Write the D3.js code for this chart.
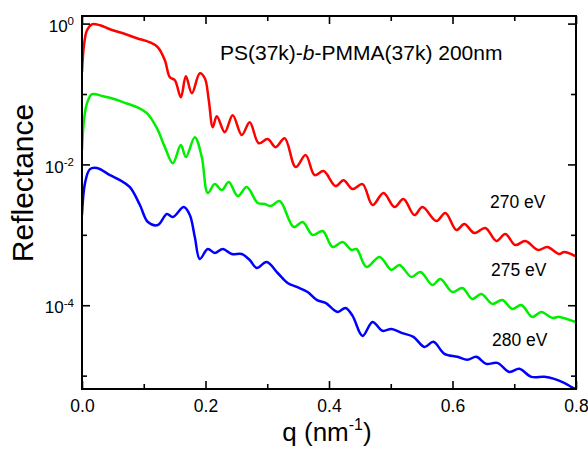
<!DOCTYPE html>
<html>
<head>
<meta charset="utf-8">
<script src="https://cdn.jsdelivr.net/npm/d3@7"></script>
<style>
  html, body { margin: 0; padding: 0; background: #fff; }
  svg { display: block; font-family: "Liberation Sans", Arial, Helvetica, sans-serif; }
</style>
</head>
<body>
<svg id="chart" width="588" height="449"></svg>
<script>
// Soft X-ray reflectivity of a PS-b-PMMA film measured at three photon energies.
const seriesNames = ["270 eV", "275 eV", "280 eV"];
const seriesColors = ["#ff0000", "#00ee00", "#0000ff"];

// 270 eV
const q270 = [0, 0.0032, 0.0081, 0.0162, 0.0291, 0.0453, 0.0663, 0.0889, 0.1099, 0.1229,
  0.1342, 0.1423, 0.1504, 0.1601, 0.1682, 0.1779, 0.1908, 0.1989, 0.2053, 0.2118,
  0.2183, 0.2312, 0.2441, 0.2587, 0.2716, 0.2862, 0.3007, 0.3137, 0.3282, 0.3460,
  0.3622, 0.3767, 0.3913, 0.4107, 0.4236, 0.4382, 0.4543, 0.4705, 0.4883, 0.5061,
  0.5206, 0.5384, 0.5513, 0.5740, 0.5885, 0.6063, 0.6192, 0.6354, 0.6532, 0.6710,
  0.6855, 0.7017, 0.7179, 0.7389, 0.7534, 0.7728, 0.7809, 0.7987];
const r270 = [0.204, 0.492, 0.803, 0.977, 0.946, 0.830, 0.728, 0.619, 0.543, 0.461,
  0.302, 0.173, 0.157, 0.0901, 0.179, 0.1026, 0.197, 0.1675, 0.0817, 0.0338,
  0.0484, 0.0287, 0.0500, 0.0261, 0.0398, 0.0200, 0.0229, 0.0176, 0.0236, 0.00916,
  0.01355, 0.00705, 0.00804, 0.00492, 0.00598, 0.00447, 0.00526, 0.00265, 0.00392, 0.00248,
  0.00322, 0.00191, 0.00248, 0.00157, 0.00204, 0.00117, 0.00142, 0.00106, 0.00125, 0.000817,
  0.001026, 0.000716, 0.000817, 0.000608, 0.000671, 0.000534, 0.000570, 0.000500];

// 275 eV
const q275 = [0, 0.0032, 0.0081, 0.0162, 0.0340, 0.0534, 0.0663, 0.0889, 0.1051, 0.1213,
  0.1342, 0.1471, 0.1601, 0.1682, 0.1827, 0.1940, 0.2037, 0.2150, 0.2264, 0.2377,
  0.2522, 0.2668, 0.2846, 0.2959, 0.3056, 0.3201, 0.3428, 0.3573, 0.3735, 0.3897,
  0.4058, 0.4220, 0.4365, 0.4446, 0.4608, 0.4818, 0.5012, 0.5141, 0.5335, 0.5481,
  0.5675, 0.5804, 0.5998, 0.6160, 0.6322, 0.6467, 0.6645, 0.6807, 0.6968, 0.7114,
  0.7292, 0.7437, 0.7615, 0.7728, 0.7987];
const r275 = [0.01596, 0.0425, 0.0740, 0.0993, 0.0931, 0.0844, 0.0765, 0.0650, 0.0534, 0.0327,
  0.0176, 0.01043, 0.0188, 0.0127, 0.0244, 0.0127, 0.00392, 0.00526, 0.00432, 0.00561,
  0.00355, 0.00476, 0.00283, 0.00274, 0.00256, 0.00302, 0.00129, 0.00152, 0.000993, 0.001132,
  0.000671, 0.000791, 0.000608, 0.000629, 0.000349, 0.000484, 0.000317, 0.000373, 0.000252, 0.000297,
  0.000194, 0.000236, 0.0001545, 0.000176, 0.0001228, 0.0001445, 0.0001045, 0.0001189, 0.0000887, 0.0001009,
  0.0000683, 0.0000804, 0.0000661, 0.0000683, 0.0000579];

// 280 eV
const q280 = [0, 0.0049, 0.0129, 0.0243, 0.0453, 0.0614, 0.0776, 0.0938, 0.1067, 0.1229,
  0.1374, 0.1471, 0.1649, 0.1746, 0.1827, 0.1908, 0.2037, 0.2150, 0.2280, 0.2425,
  0.2587, 0.2716, 0.2829, 0.2991, 0.3169, 0.3331, 0.3476, 0.3654, 0.3800, 0.3945,
  0.4139, 0.4268, 0.4382, 0.4543, 0.4705, 0.4867, 0.5012, 0.5174, 0.5368, 0.5546,
  0.5691, 0.5869, 0.6079, 0.6241, 0.6386, 0.6548, 0.6726, 0.6920, 0.7082, 0.7276,
  0.7486, 0.7647, 0.7809, 0.7922, 0.7987];
const r280 = [0.00191, 0.00543, 0.00857, 0.00887, 0.00705, 0.00598, 0.00476, 0.00265, 0.00152, 0.001377,
  0.00197, 0.00179, 0.00248, 0.00191, 0.000931, 0.000454, 0.000629, 0.000552, 0.000629, 0.000534,
  0.000534, 0.000439, 0.000338, 0.000411, 0.000287, 0.000207, 0.000182, 0.0001545, 0.0001189, 0.0001079,
  0.0000804, 0.0000916, 0.0000705, 0.0000367, 0.0000579, 0.0000433, 0.0000461, 0.0000405, 0.0000355, 0.0000256,
  0.0000302, 0.0000204, 0.0000185, 0.0000168, 0.0000185, 0.0000147, 0.0000152, 0.0000113, 0.0000125, 0.00000962,
  0.00000962, 0.00000901, 0.00000791, 0.00000693, 0.0000065];

const xMajor = [0, 0.2, 0.4, 0.6, 0.8];
const xMinor = [0.1, 0.3, 0.5, 0.7];
const yMajor = [1, 1e-2, 1e-4];
const yMinor = [1e-1, 1e-3, 1e-5];
const yExponents = ["0", "-2", "-4"];

const qs = [q270, q275, q280];
const rs = [r270, r275, r280];

// ---- layout ----
const W = 588, H = 449;
const m = { left: 82, right: 12, top: 16, bottom: 60 };
const svg = d3.select("#chart");

const x = d3.scaleLinear().domain([0, 0.8]).range([m.left, W - m.right]);
const y = d3.scaleLog().domain([6.46e-6, 1.282]).range([H - m.bottom, m.top]);

svg.append("defs").append("clipPath").attr("id", "plot-clip")
  .append("rect")
  .attr("x", m.left).attr("y", m.top)
  .attr("width", W - m.left - m.right).attr("height", H - m.top - m.bottom);

// ---- curves ----
const line = d3.line()
  .x(d => x(d[0]))
  .y(d => y(d[1]))
  .curve(d3.curveCatmullRom.alpha(0.5));

const curves = svg.append("g").attr("clip-path", "url(#plot-clip)");
seriesNames.forEach((name, i) => {
  const pts = qs[i].map((q, k) => [q, rs[i][k]]);
  curves.append("path")
    .datum(pts)
    .attr("fill", "none")
    .attr("stroke", seriesColors[i])
    .attr("stroke-width", 2.5)
    .attr("stroke-linejoin", "round")
    .attr("d", line);
});

// ---- axes (ticks point inward on all four sides) ----
function styleAxis(g) {
  g.select(".domain").remove();
  g.selectAll(".tick line").attr("stroke", "#000").attr("stroke-width", 1.6);
}

const axBottom = svg.append("g").attr("transform", `translate(0,${H - m.bottom})`);
axBottom.call(d3.axisBottom(x).tickValues(xMajor).tickSizeInner(-8).tickSizeOuter(0)
    .tickPadding(11).tickFormat(d3.format(".1f")))
  .call(styleAxis)
  .call(g => g.selectAll(".tick text")
    .attr("font-size", 17.5).attr("font-family", "Liberation Sans, Arial, sans-serif").attr("fill", "#000"));
axBottom.append("g").call(d3.axisBottom(x).tickValues(xMinor).tickSizeInner(-5).tickSizeOuter(0).tickFormat(""))
  .call(styleAxis);

const axTop = svg.append("g").attr("transform", `translate(0,${m.top})`);
axTop.call(d3.axisTop(x).tickValues(xMajor).tickSizeInner(-8).tickSizeOuter(0).tickFormat("")).call(styleAxis);
axTop.append("g").call(d3.axisTop(x).tickValues(xMinor).tickSizeInner(-5).tickSizeOuter(0).tickFormat("")).call(styleAxis);

const axLeft = svg.append("g").attr("transform", `translate(${m.left},0)`);
axLeft.call(d3.axisLeft(y).tickValues(yMajor).tickSizeInner(-8).tickSizeOuter(0).tickPadding(8).tickFormat(() => ""))
  .call(styleAxis)
  .call(g => g.selectAll(".tick text")
    .attr("font-size", 17).attr("font-family", "Liberation Sans, Arial, sans-serif").attr("fill", "#000")
    .attr("dy", "0.45em")
    .each(function (d, i) {
      const t = d3.select(this);
      t.text("10");
      t.append("tspan").attr("dy", "-0.55em").attr("font-size", 11.5).text(yExponents[i]);
    }));
axLeft.append("g").call(d3.axisLeft(y).tickValues(yMinor).tickSizeInner(-5).tickSizeOuter(0).tickFormat(""))
  .call(styleAxis);

const axRight = svg.append("g").attr("transform", `translate(${W - m.right},0)`);
axRight.call(d3.axisRight(y).tickValues(yMajor).tickSizeInner(-8).tickSizeOuter(0).tickFormat("")).call(styleAxis);
axRight.append("g").call(d3.axisRight(y).tickValues(yMinor).tickSizeInner(-5).tickSizeOuter(0).tickFormat("")).call(styleAxis);

// frame
svg.append("rect")
  .attr("x", m.left).attr("y", m.top)
  .attr("width", W - m.left - m.right).attr("height", H - m.top - m.bottom)
  .attr("fill", "none").attr("stroke", "#000").attr("stroke-width", 2);

// ---- axis titles ----
svg.append("text")
  .attr("transform", "translate(33,183) rotate(-90)")
  .attr("text-anchor", "middle")
  .attr("font-size", 30)
  .text("Reflectance");

const xt = svg.append("text")
  .attr("x", 327)
  .attr("y", 441)
  .attr("text-anchor", "middle")
  .attr("font-size", 26);
xt.append("tspan").text("q (nm");
xt.append("tspan").attr("dy", -11).attr("font-size", 16).text("-1");
xt.append("tspan").attr("dy", 11).text(")");

// ---- title ----
const title = svg.append("text").attr("x", 220).attr("y", 60).attr("font-size", 21);
title.append("tspan").text("PS(37k)-");
title.append("tspan").attr("font-style", "italic").text("b");
title.append("tspan").text("-PMMA(37k) 200nm");

// ---- series labels ----
const labelPos = [[490, 208], [491, 276], [492, 346]];
seriesNames.forEach((name, i) => {
  svg.append("text")
    .attr("x", labelPos[i][0]).attr("y", labelPos[i][1])
    .attr("font-size", 17.5)
    .text(name);
});
</script>
</body>
</html>
